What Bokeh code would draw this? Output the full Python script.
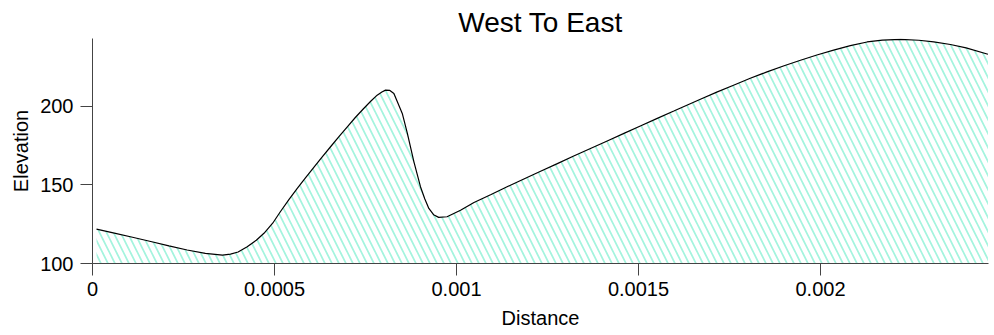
from bokeh.plotting import figure
from bokeh.models import Range1d, FixedTicker, CustomJSTickFormatter
from bokeh.embed import file_html
from bokeh.resources import INLINE

# Elevation profile, west to east
distance = [0.000011, 0.00006, 0.00011, 0.00016, 0.00021, 0.00026, 0.00031,
            0.000357, 0.000379, 0.0004, 0.000425, 0.00045, 0.000471,
            0.000495, 0.000516, 0.00054, 0.000562, 0.000585, 0.000608,
            0.00063, 0.000654, 0.000677, 0.0007, 0.000722, 0.000745,
            0.000765, 0.000782, 0.000795, 0.000805, 0.000817, 0.000828,
            0.000851, 0.000865, 0.000883, 0.000901, 0.000913, 0.000924,
            0.000937, 0.000951, 0.000974, 0.001011, 0.001048, 0.001095,
            0.001139, 0.001185, 0.001231, 0.001277, 0.001322, 0.001368,
            0.001414, 0.00146, 0.001505, 0.00155, 0.001597, 0.00167,
            0.001715, 0.001761, 0.001807, 0.001853, 0.0019, 0.001945,
            0.00199, 0.002036, 0.002082, 0.002128, 0.00217, 0.00222,
            0.00227, 0.002311, 0.002357, 0.0024, 0.00246]
elevation = [121.8, 119.3, 116.7, 114.0, 111.2, 108.6, 106.4,
             105.3, 106.0, 107.3, 110.7, 114.8, 119.2,
             125.6, 132.9, 140.8, 147.6, 154.4, 161.1,
             167.5, 174.2, 180.6, 186.9, 192.8, 198.5,
             203.3, 207.0, 209.0, 210.2, 210.0, 208.1,
             195.4, 182.7, 164.6, 148.8, 141.0, 135.0,
             131.0, 129.3, 129.7, 133.8, 138.8, 143.9,
             148.8, 153.7, 158.6, 163.5, 168.3, 173.1,
             177.9, 182.7, 187.4, 192.1, 196.9, 204.4,
             208.9, 213.3, 217.7, 221.8, 225.7, 229.2,
             232.5, 235.6, 238.5, 240.8, 242.0, 242.5,
             241.9, 240.9, 239.2, 237.0, 233.0]
base_level = [100] * len(distance)

x_ticks = [0, 0.0005, 0.001, 0.0015, 0.002]
y_ticks = [100, 150, 200]

FONT = "Liberation Sans"

p = figure(width=994, height=335, output_backend="svg", toolbar_location=None,
           x_range=Range1d(0, 0.0024615), y_range=Range1d(100, 243),
           title="West To East",
           min_border_left=92, min_border_right=6,
           min_border_top=38, min_border_bottom=72)

p.varea(x=distance, y1=base_level, y2=elevation,
        fill_alpha=0, hatch_pattern="\\", hatch_color="#a4f4de",
        hatch_weight=1.7, hatch_scale=14)
p.line(distance, elevation, line_color="black", line_width=1.2)

p.title.align = "center"
p.title.text_font = FONT
p.title.text_font_size = "28px"
p.title.text_font_style = "normal"
p.title.text_color = "black"
p.title.standoff = 2

p.xgrid.visible = False
p.ygrid.visible = False
p.outline_line_color = None

p.xaxis.ticker = FixedTicker(ticks=x_ticks)
p.yaxis.ticker = FixedTicker(ticks=y_ticks)
p.xaxis.formatter = CustomJSTickFormatter(code="return tick.toString();")
p.xaxis.axis_label = "Distance"
p.yaxis.axis_label = "Elevation"

for ax in (p.xaxis, p.yaxis):
    ax.axis_line_color = "#444444"
    ax.major_tick_line_color = "#444444"
    ax.major_tick_out = 12
    ax.major_tick_in = 0
    ax.minor_tick_out = 0
    ax.minor_tick_in = 0
    ax.major_label_text_font = FONT
    ax.major_label_text_font_size = "20px"
    ax.major_label_text_color = "black"
    ax.axis_label_text_font = FONT
    ax.axis_label_text_font_size = "20px"
    ax.axis_label_text_font_style = "normal"
    ax.axis_label_text_color = "black"

p.yaxis.major_label_standoff = 7
p.xaxis.major_label_standoff = 6
p.xaxis.axis_label_standoff = 8

open("out.html", "w").write(file_html(p, INLINE))
